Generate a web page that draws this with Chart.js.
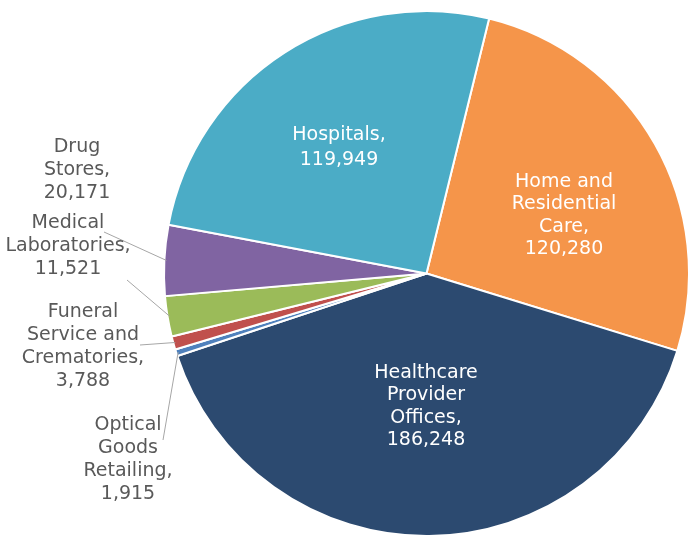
<!DOCTYPE html>
<html>
<head>
<meta charset="utf-8">
<script src="https://cdn.jsdelivr.net/npm/chart.js@4/dist/chart.umd.min.js"></script>
<style>
  html, body { margin: 0; padding: 0; background: #fff; }
  #wrap { position: relative; width: 693px; height: 541px; }
</style>
</head>
<body>
<div id="wrap"><canvas id="chart"></canvas></div>
<script>
// data, clockwise from the top
const categoryLines = [
    ["Home and", "Residential", "Care,"],
    ["Healthcare", "Provider", "Offices,"],
    ["Optical", "Goods", "Retailing,"],
    ["Funeral", "Service and", "Crematories,"],
    ["Medical", "Laboratories,"],
    ["Drug", "Stores,"],
    ["Hospitals,"]
];
const categories = categoryLines.map(l => l.join(" ").replace(/,$/, ""));
const employees = [120280, 186248, 1915, 3788, 11521, 20171, 119949];
const sliceColors = ["#F5954A", "#2C4A70", "#4F81BD", "#C0504D", "#9BBB59", "#8064A2", "#4BACC6"];

// label placement: center of first line, text colour, leader start (null = none)
const labelPos = [
    { x: 564, y: 182, lh: 22.5, color: "#ffffff", leader: null },
    { x: 426, y: 373, lh: 22.5, color: "#ffffff", leader: null },
    { x: 128, y: 425, lh: 23, color: "#595959", leader: [163, 440] },
    { x: 83, y: 312, lh: 23, color: "#595959", leader: [140, 345] },
    { x: 68, y: 223, lh: 23, color: "#595959", leader: [127, 280] },
    { x: 77, y: 147, lh: 23, color: "#595959", leader: [104, 232] },
    { x: 339, y: 135, lh: 25, color: "#ffffff", leader: null }
];

const pieLabels = {
    id: "pieLabels",
    afterDatasetsDraw(chart) {
        const ctx = chart.ctx;
        const meta = chart.getDatasetMeta(0);
        ctx.save();
        // leader lines first
        meta.data.forEach((arc, i) => {
            const p = labelPos[i];
            if (!p.leader) return;
            const mid = (arc.startAngle + arc.endAngle) / 2;
            const ex = arc.x + Math.cos(mid) * (arc.outerRadius - 2);
            const ey = arc.y + Math.sin(mid) * (arc.outerRadius - 2);
            ctx.strokeStyle = "#a6a6a6";
            ctx.lineWidth = 1;
            ctx.beginPath();
            ctx.moveTo(p.leader[0], p.leader[1]);
            ctx.lineTo(ex, ey);
            ctx.stroke();
        });
        ctx.font = "19px 'DejaVu Sans'";
        ctx.textAlign = "center";
        ctx.textBaseline = "middle";
        meta.data.forEach((arc, i) => {
            const p = labelPos[i];
            const lines = categoryLines[i].concat([employees[i].toLocaleString("en-US")]);
            ctx.fillStyle = p.color;
            lines.forEach((t, k) => ctx.fillText(t, p.x, p.y + k * p.lh));
        });
        ctx.restore();
    }
};

new Chart(document.getElementById("chart"), {
    type: "pie",
    data: {
        labels: categories,
        datasets: [{
            data: employees,
            backgroundColor: sliceColors,
            borderColor: "#ffffff",
            borderWidth: 2
        }]
    },
    options: {
        responsive: true,
        maintainAspectRatio: false,
        animation: false,
        rotation: 13.8,
        layout: { padding: { left: 163, right: 3, top: 9, bottom: 3 } },
        plugins: {
            legend: { display: false },
            tooltip: { enabled: false }
        }
    },
    plugins: [pieLabels]
});
</script>
</body>
</html>
